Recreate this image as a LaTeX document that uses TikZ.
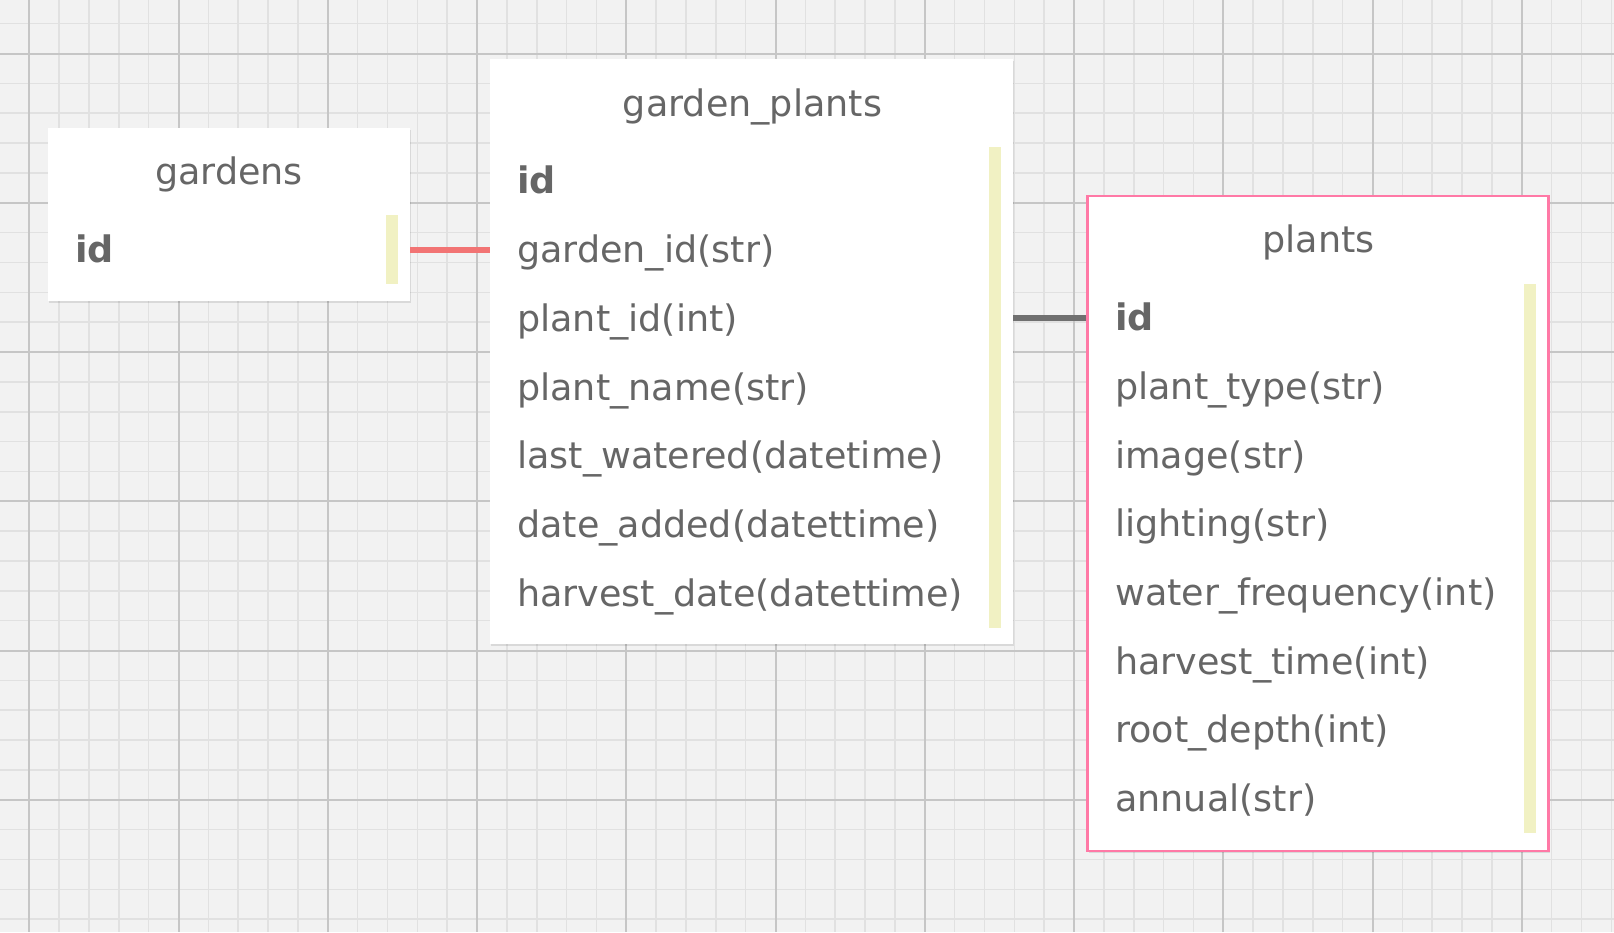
\documentclass[tikz,border=0pt]{standalone}
\usepackage{fontspec}
\setmainfont{DejaVu Sans}
\usetikzlibrary{shadows}
\definecolor{bg}{HTML}{F2F2F2}
\definecolor{gridminor}{HTML}{E1E1E1}
\definecolor{gridmajor}{HTML}{C6C6C6}
\definecolor{txt}{HTML}{666666}
\definecolor{keybar}{HTML}{F1F1C3}
\definecolor{relred}{HTML}{F27474}
\definecolor{reldark}{HTML}{707070}
\definecolor{pinkb}{HTML}{FF79A6}
\begin{document}
\begin{tikzpicture}[x=1pt,y=-1pt,
  tablebox/.style={fill=white, draw=none, anchor=north west, inner sep=0, outer sep=0,
    drop shadow={shadow xshift=1.2pt, shadow yshift=-1.8pt, opacity=0.10, fill=black}},
  titletext/.style={anchor=base, inner sep=0, text=txt, font=\fontsize{36.5}{44}\selectfont},
  fieldtext/.style={anchor=base west, inner sep=0, text=txt, font=\fontsize{36.5}{44}\selectfont},
  keytext/.style={anchor=base west, inner sep=0, text=txt, font=\fontsize{36.5}{44}\selectfont\bfseries},
  barbox/.style={fill=keybar, draw=none, anchor=north west, inner sep=0, outer sep=0, minimum width=12pt},
  relline/.style={line width=6pt}
]
\useasboundingbox (0,0) rectangle (1614,932);
\fill[bg] (0,0) rectangle (1614,932);
% grid
\foreach \i in {0,...,54} {
  \pgfmathsetmacro\xx{29.25+29.85*\i}
  \draw[gridminor, line width=1.6pt] (\xx,0) -- (\xx,932);
}
\foreach \i in {0,...,31} {
  \pgfmathsetmacro\yy{23.65+29.85*\i}
  \draw[gridminor, line width=1.6pt] (0,\yy) -- (1614,\yy);
}
\foreach \i in {0,...,10} {
  \pgfmathsetmacro\xx{29.25+149.25*\i}
  \draw[gridmajor, line width=2pt] (\xx,0) -- (\xx,932);
}
\foreach \i in {0,...,6} {
  \pgfmathsetmacro\yy{53.5+149.25*\i}
  \draw[gridmajor, line width=2pt] (0,\yy) -- (1614,\yy);
}

% gardens
\node[tablebox, minimum width=362pt, minimum height=173pt] (gardens) at (48,128) {};
\node[titletext] (gardenst) at (229,184.6) {gardens};
\node[keytext] (gardensid) at (75,262.6) {id};
\node[barbox, minimum height=69pt] (gardensbar) at (386,215) {};

% garden_plants
\node[tablebox, minimum width=523pt, minimum height=585pt] (gp) at (490,59) {};
\node[titletext] (gpt) at (752.5,116) {garden\_plants};
\node[keytext] (gpid) at (517,193.9) {id};
\node[fieldtext] (gpgid) at (517,262.6) {garden\_id(str)};
\node[fieldtext] (gppid) at (517,331.3) {plant\_id(int)};
\node[fieldtext] (gppname) at (517,400) {plant\_name(str)};
\node[fieldtext] (gplw) at (517,468.7) {last\_watered(datetime)};
\node[fieldtext] (gpda) at (517,537.4) {date\_added(datettime)};
\node[fieldtext] (gphd) at (517,606.1) {harvest\_date(datettime)};
\node[barbox, minimum height=481pt] (gpbar) at (989,147) {};

% plants
\node[tablebox, minimum width=461pt, minimum height=655pt, draw=pinkb, line width=2.6pt] (plants) at (1087.3,195.8) {};
\node[titletext] (plantst) at (1318.5,252.8) {plants};
\node[keytext] (plid) at (1115,330.6) {id};
\node[fieldtext] (plty) at (1115,399.3) {plant\_type(str)};
\node[fieldtext] (plim) at (1115,468) {image(str)};
\node[fieldtext] (plli) at (1115,536.7) {lighting(str)};
\node[fieldtext] (plwf) at (1115,605.4) {water\_frequency(int)};
\node[fieldtext] (plht) at (1115,674.1) {harvest\_time(int)};
\node[fieldtext] (plrd) at (1115,742.8) {root\_depth(int)};
\node[fieldtext] (plan) at (1115,811.5) {annual(str)};
\node[barbox, minimum height=549pt] (plbar) at (1524,283.6) {};

% relations
\coordinate (r1) at (0,250);
\coordinate (r2) at (0,318);
\draw[relline, relred] (gardens.east |- r1) -- (gp.west |- r1);
\draw[relline, reldark] (gp.east |- r2) -- ([xshift=-1.3pt]plants.west |- r2);
\end{tikzpicture}
\end{document}
